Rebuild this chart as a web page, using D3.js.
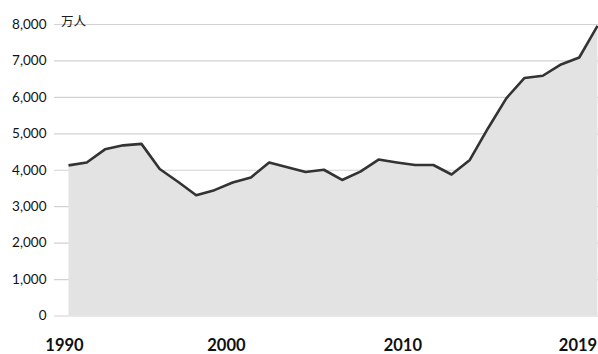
<!DOCTYPE html>
<html>
<head>
<meta charset="utf-8">
<script src="https://cdn.jsdelivr.net/npm/d3@7"></script>
<style>
  html, body { margin: 0; padding: 0; background: #fff; }
  svg { display: block; }
</style>
</head>
<body>
<svg id="chart" width="598" height="354"></svg>
<script>
// ---- data ----
const years = [1990,1991,1992,1993,1994,1995,1996,1997,1998,1999,
               2000,2001,2002,2003,2004,2005,2006,2007,2008,2009,
               2010,2011,2012,2013,2014,2015,2016,2017,2018,2019];
const values = [4120,4200,4560,4670,4710,4020,3670,3300,3440,3650,
                3790,4200,4070,3940,4000,3720,3950,4280,4200,4130,
                4130,3870,4270,5140,5960,6520,6580,6890,7080,7950];
const yTicks = [0,1000,2000,3000,4000,5000,6000,7000,8000];
const xTickYears = [1990,2000,2010,2019];
const unitLabel = "万人";

// ---- layout ----
const svg = d3.select("#chart");
const W = 598, H = 354;
const x = d3.scaleLinear().domain([1990, 2019]).range([68.5, 597.5]);
const y = d3.scaleLinear().domain([0, 8000]).range([315.5, 24]);
const gridLeft = 54;

// gridlines + y labels
const yAxis = d3.axisLeft(y)
  .tickValues(yTicks)
  .tickSize(-(W - gridLeft))
  .tickPadding(7.5)
  .tickFormat(d3.format(","));
const gy = svg.append("g")
  .attr("transform", `translate(${gridLeft},0)`)
  .call(yAxis);
gy.select(".domain").remove();
gy.selectAll(".tick line").attr("stroke", "#d2d2d2").attr("stroke-width", 1.2);
gy.selectAll(".tick text")
  .attr("fill", "#111")
  .style("font-family", "Lato, 'Open Sans', sans-serif")
  .style("font-size", "13.5px");

// area + line
const pts = years.map((yr, i) => [yr, values[i]]);
svg.append("path")
  .datum(pts)
  .attr("fill", "#e3e3e3")
  .attr("d", d3.area().x(d => x(d[0])).y0(y(0)).y1(d => y(d[1])));
svg.append("path")
  .datum(pts)
  .attr("fill", "none")
  .attr("stroke", "#333333")
  .attr("stroke-width", 2.6)
  .attr("stroke-linejoin", "round")
  .attr("d", d3.line().x(d => x(d[0])).y(d => y(d[1])));

// x labels
const xShift = {1990: -4.5, 2000: -25, 2010: -31, 2019: -20};
const xAxis = d3.axisBottom(x)
  .tickValues(xTickYears)
  .tickSize(0)
  .tickPadding(0)
  .tickFormat(d3.format("d"));
const gx = svg.append("g")
  .attr("transform", `translate(0,${y(0)})`)
  .call(xAxis);
gx.select(".domain").remove();
gx.selectAll(".tick text")
  .attr("dy", null)
  .attr("y", 351 - y(0))
  .attr("dx", d => xShift[d])
  .attr("fill", "#111")
  .style("font-family", "Lato, 'Open Sans', sans-serif")
  .style("font-weight", "bold")
  .style("font-size", "16.5px");

// unit label
svg.append("text")
  .attr("x", 61)
  .attr("y", 25.5)
  .attr("fill", "#1a1a1a")
  .style("font-family", "'Noto Sans CJK SC', sans-serif")
  .style("font-size", "12.5px")
  .text(unitLabel);
</script>
</body>
</html>
